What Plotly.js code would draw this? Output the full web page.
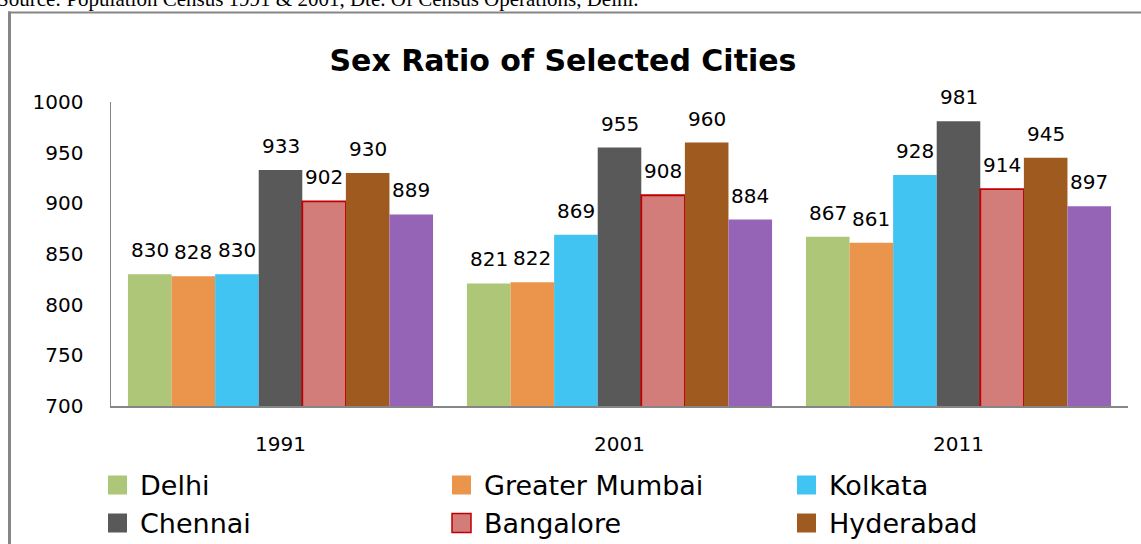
<!DOCTYPE html>
<html>
<head>
<meta charset="utf-8">
<script src="https://cdn.plot.ly/plotly-3.0.1.min.js"></script>
<style>
  html, body { margin: 0; padding: 0; background: #fff; }
  #chart { width: 1141px; height: 544px; }
</style>
</head>
<body>
<div id="chart"></div>
<script>
// ---- data ----
const years = ["1991", "2001", "2011"];
const cities = ["Delhi", "Greater Mumbai", "Kolkata", "Chennai", "Bangalore", "Hyderabad", "Ahmedabad"];
const delhi = [830, 821, 867];
const greaterMumbai = [828, 822, 861];
const kolkata = [830, 869, 928];
const chennai = [933, 955, 981];
const bangalore = [902, 908, 914];
const hyderabad = [930, 960, 945];
const ahmedabad = [889, 884, 897];
const yTicks = [700, 750, 800, 850, 900, 950, 1000];
const sourceNote = "Source: Population Census 1991 & 2001, Dte. Of Census Operations, Delhi.";
const chartTitle = "Sex Ratio of Selected Cities";

// ---- styling ----
const seriesValues = [delhi, greaterMumbai, kolkata, chennai, bangalore, hyderabad, ahmedabad];
const fills = ["#AEC677", "#EB944C", "#41C4F2", "#595959", "#D27D7A", "#9F5A20", "#9564B6"];
const outlines = [null, null, null, null, "#C00000", null, null];

const W = 1141, H = 544;
const M = { l: 111, r: 13, t: 102, b: 138 };
const PW = W - M.l - M.r, PH = H - M.t - M.b;
const px2x = p => (p - M.l) / PW;
const px2y = p => (H - M.b - p) / PH;

const BARGAP = 0.1;
const nS = seriesValues.length;
const barW = (1 - BARGAP) / nS;
const FONT = "DejaVu Sans, Verdana, sans-serif";

const traces = seriesValues.map((vals, i) => ({
  type: "bar",
  name: cities[i],
  x: years,
  y: vals,
  marker: {
    color: fills[i],
    line: { color: outlines[i] || fills[i], width: outlines[i] ? 1.8 : 0 }
  },
  hoverinfo: "x+y+name",
  showlegend: false
}));

// data labels above each bar
const annotations = [];
seriesValues.forEach((vals, i) => {
  vals.forEach((v, ci) => {
    annotations.push({
      xref: "x", yref: "y",
      x: ci + (i - (nS - 1) / 2) * barW,
      y: v,
      text: String(v),
      showarrow: false,
      xanchor: "center", yanchor: "bottom",
      yshift: 10,
      font: { family: FONT, size: 20, color: "#000" }
    });
  });
});

// source note (cut off at the top of the picture, as in the reference)
annotations.push({
  xref: "paper", yref: "paper",
  x: px2x(-5), y: px2y(12.5),
  xanchor: "left", yanchor: "bottom",
  text: sourceNote, showarrow: false,
  font: { family: "Liberation Serif, Times New Roman, serif", size: 21, color: "#000" }
});

// manual legend (three columns; only the entries visible in the picture)
const shapes = [];
const colLeft = [108, 452, 797];
const rowMid = [485, 523];
const SQ = 19;
cities.forEach((name, i) => {
  const c = i % 3, r = Math.floor(i / 3);
  if (r >= rowMid.length) return;
  const x0 = colLeft[c], yc = rowMid[r];
  shapes.push({
    type: "rect", xref: "paper", yref: "paper",
    x0: px2x(x0), x1: px2x(x0 + SQ),
    y0: px2y(yc + SQ / 2), y1: px2y(yc - SQ / 2),
    fillcolor: fills[i],
    line: { color: outlines[i] || fills[i], width: outlines[i] ? 1.5 : 0 }
  });
  annotations.push({
    xref: "paper", yref: "paper",
    x: px2x(x0 + 30), y: px2y(yc),
    xanchor: "left", yanchor: "middle",
    text: name, showarrow: false,
    font: { family: FONT, size: 27, color: "#000" }
  });
});

// outer chart frame (left and top edges visible)
shapes.push({
  type: "line", xref: "paper", yref: "paper",
  x0: px2x(9.5), x1: px2x(9.5), y0: px2y(11.5), y1: px2y(H + 5),
  line: { color: "#868686", width: 3 }
});
shapes.push({
  type: "line", xref: "paper", yref: "paper",
  x0: px2x(8), x1: px2x(W + 5), y0: px2y(12.5), y1: px2y(12.5),
  line: { color: "#868686", width: 2 }
});

const layout = {
  width: W, height: H,
  margin: M,
  paper_bgcolor: "#fff", plot_bgcolor: "#fff",
  barmode: "group", bargap: BARGAP, bargroupgap: 0,
  showlegend: false,
  title: {
    text: "<b>" + chartTitle + "</b>",
    xref: "container", yref: "container",
    x: 563 / W, y: 1 - 60 / H,
    xanchor: "center", yanchor: "middle",
    font: { family: FONT, size: 30, color: "#000" }
  },
  xaxis: {
    type: "category",
    showline: true, linecolor: "#868686", linewidth: 1.5,
    showgrid: false, zeroline: false,
    ticks: "", ticklabelstandoff: 19,
    tickfont: { family: FONT, size: 20, color: "#000" },
    fixedrange: true
  },
  yaxis: {
    range: [700, 1000],
    tickvals: yTicks,
    ticktext: yTicks.map(String),
    showline: true, linecolor: "#868686", linewidth: 1.5,
    showgrid: false, zeroline: false,
    ticks: "", ticklabelstandoff: 22,
    tickfont: { family: FONT, size: 20, color: "#000" },
    fixedrange: true
  },
  annotations: annotations,
  shapes: shapes
};

Plotly.newPlot("chart", traces, layout, { displayModeBar: false, staticPlot: true });
</script>
</body>
</html>
